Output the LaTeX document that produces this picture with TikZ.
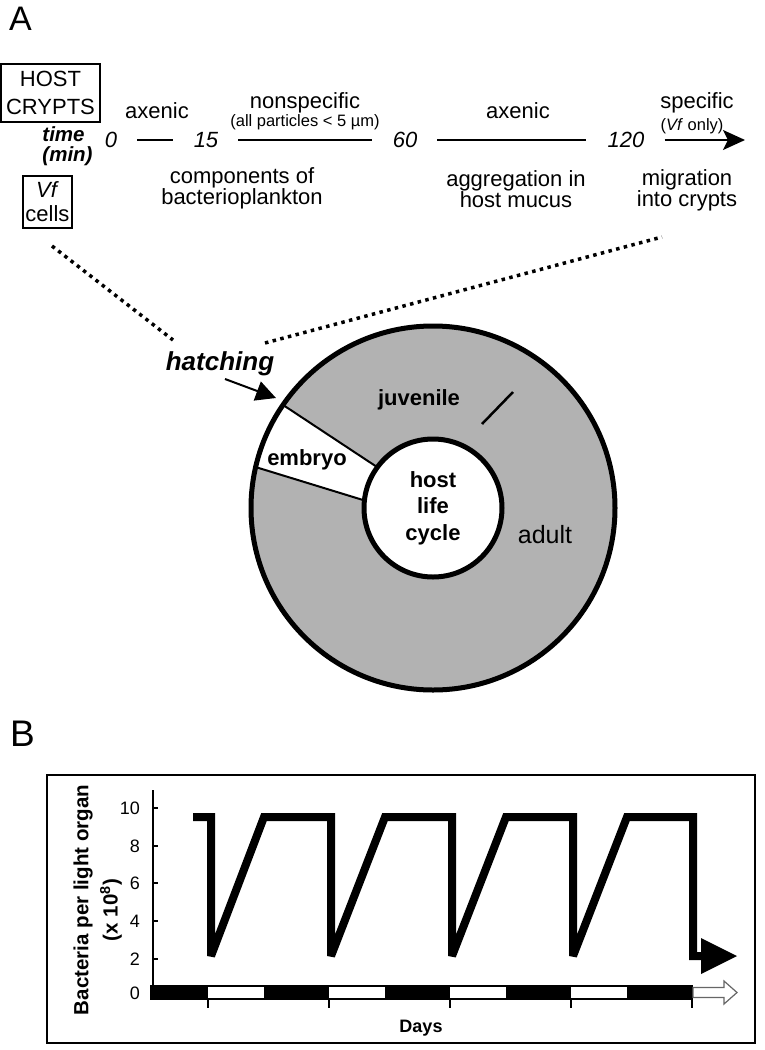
\documentclass[tikz,border=0pt]{standalone}
\usepackage{fontspec}
\setmainfont{Liberation Sans}
\usetikzlibrary{arrows.meta,calc}
\definecolor{ringgray}{RGB}{178,178,178}
\begin{document}
\begin{tikzpicture}[x=1pt,y=-1pt,
  lbl/.style={inner sep=0pt, font=\fontsize{22}{26}\selectfont},
  small/.style={inner sep=0pt, font=\fontsize{16.5}{19}\selectfont},
  ml/.style={inner sep=0pt, align=center, font=\fontsize{22}{20}\selectfont},
  num/.style={inner sep=0pt, font=\fontsize{22}{26}\selectfont\itshape},
  tl/.style={line width=1.5pt, shorten <=20pt, shorten >=21pt},
  boxed/.style={draw, line width=1.5pt, inner sep=0pt, align=center},
  dotline/.style={line width=3.5pt, dash pattern=on 3.5pt off 4.4pt},
  bold22/.style={inner sep=0pt, font=\fontsize{22}{26}\selectfont\bfseries},
  ticklbl/.style={anchor=east, inner sep=0pt, font=\fontsize{18}{22}\selectfont},
  thin/.style={line width=1.5pt}
]
\useasboundingbox (0,0) rectangle (765,1050);

% ---------------- Panel A ----------------
\node[inner sep=0pt, font=\fontsize{34}{40}\selectfont] (A) at (20.5,18.5) {A};

\node[boxed, minimum width=99pt, minimum height=58pt, font=\fontsize{22}{28}\selectfont] (crypts) at (50.5,93) {HOST\\CRYPTS};
\node[boxed, minimum width=49pt, minimum height=52pt, font=\fontsize{22}{24}\selectfont] (vf) at (47.5,202) {\textit{Vf}\\cells};
\node[inner sep=0pt, align=left, font=\fontsize{20.5}{20}\selectfont\bfseries\itshape] (time) at (67.5,146) {time\\(min)};

\node[num] (t0) at (111,140) {0};
\node[num] (t15) at (206,140) {15};
\node[num] (t60) at (405,140) {60};
\node[num] (t120) at (626,140) {120};
\coordinate (tend) at (745,140);

\draw[tl] (t0.east) -- (t15.west);
\draw[tl] (t15.east) -- (t60.west);
\draw[tl] (t60.east) -- (t120.west);
\draw[tl, shorten >=0pt, -{Stealth[length=22pt,width=20pt,inset=5pt]}] (t120.east) -- (tend);

\node[lbl, anchor=base] (ax1) at (157,118) {axenic};
\node[lbl, anchor=base] (nonsp) at (305,108) {nonspecific};
\node[small, anchor=base] (allp) at (305,126.5) {(all particles < 5 µm)};
\node[lbl, anchor=base] (ax2) at (518,118) {axenic};
\node[lbl, anchor=base] (spec) at (697,108) {specific};
\node[small, anchor=base] (vfonly) at (692,130) {(\textit{Vf} only)};

\node[ml] (comp) at (242,188.5) {components of\\bacterioplankton};
\node[ml] (aggr) at (516,189) {aggregation in\\host mucus};
\node[ml] (migr) at (687,190.5) {migration\\into crypts};

% dotted zoom lines
\coordinate (dl1) at (52,246);
\coordinate (dl2) at (173,340);
\coordinate (dr1) at (265,343);
\coordinate (dr2) at (662,237);
\draw[dotline] (dl1) -- (dl2);
\draw[dotline] (dr1) -- (dr2);

% life cycle ring
\begin{scope}[shift={(433,508)}]
  \fill[ringgray] (0,0) circle[radius=182];
  \fill[white] (-145.5:182) arc[start angle=-145.5, end angle=-167, radius=182] -- (-70,-8) -- (-56,-41) -- cycle;
  \coordinate (we1) at (-145.5:182);
  \coordinate (wi1) at (-56,-41);
  \coordinate (we2) at (-167:182);
  \coordinate (wi2) at (-70,-8);
  \draw[line width=2pt] (we1) -- (wi1);
  \draw[line width=2pt] (we2) -- (wi2);
  \draw[line width=5pt] (0,0) circle[radius=182];
\end{scope}
\node[circle, draw, line width=5pt, fill=white, minimum size=138pt, inner sep=0pt, align=center,
      font=\fontsize{22}{26.5}\selectfont\bfseries] (life) at (433,508) {host\\life\\cycle};

\node[bold22, anchor=base] (juv) at (419,405) {juvenile};
\node[bold22, anchor=base] (emb) at (307,465) {embryo};
\node[inner sep=0pt, anchor=base, font=\fontsize{25}{30}\selectfont] (adult) at (545,543) {adult};
\coordinate (jt1) at (513,392);
\coordinate (jt2) at (482,424);
\draw[line width=2.5pt] (jt1) -- (jt2);

\node[inner sep=0pt, anchor=base, font=\fontsize{26}{30}\selectfont\bfseries\itshape] (hatch) at (220,370) {hatching};
\coordinate (ha1) at (225,379);
\coordinate (ha2) at (276,398);
\draw[line width=2pt, -{Triangle[length=20pt,width=20pt]}] (ha1) -- (ha2);

% ---------------- Panel B ----------------
\node[inner sep=0pt, font=\fontsize{37}{44}\selectfont] (B) at (22.5,734) {B};
\draw[thin] (47,775) rectangle (755,1043);

\draw[thin] (153,790) -- (153,986);
\foreach \v/\y in {10/808, 8/846, 6/883, 4/921, 2/959} {
  \draw[thin] (153,\y) -- (158,\y);
  \node[ticklbl] (yl\v) at (140,\y) {\v};
}
\node[ticklbl] (yl0) at (140,993) {0};

% light/dark bar
\draw[thin, fill=white] (151,986) rectangle (692,999);
\foreach \a/\b in {151/208, 264/329, 385/450, 506/571, 627/692} {
  \fill (\a,986) rectangle (\b,999);
}
\foreach \x in {208,329,450,571,692} {
  \draw[thin] (\x,999) -- (\x,1008);
}
\draw[line width=1.2pt, draw=black!60, fill=white] (693,987.5) -- (724,987.5) -- (724,981) -- (737,992.5) -- (724,1004) -- (724,997.5) -- (693,997.5) -- cycle;

% bacteria curve
\draw[line width=8pt, line join=miter, miter limit=2, -{Triangle[length=36pt,width=36pt,line width=0pt]}]
  (193,817) -- (211,817) -- (211,956) -- (264,817) -- (331,817) -- (331,956) -- (385,817)
  -- (452,817) -- (452,956) -- (506,817) -- (573,817) -- (573,956) -- (627,817)
  -- (693,817) -- (693,956) -- (737,956);

\node[rotate=90, inner sep=0pt, font=\fontsize{20.5}{24}\selectfont\bfseries] (ylab) at (83,900) {Bacteria per light organ};
\node[rotate=90, inner sep=0pt, font=\fontsize{20.5}{24}\selectfont\bfseries] (yunit) at (111,910) {(x 10\textsuperscript{8})};
\node[inner sep=0pt, anchor=base, font=\fontsize{18}{22}\selectfont\bfseries] (days) at (421,1032) {Days};
\end{tikzpicture}
\end{document}
